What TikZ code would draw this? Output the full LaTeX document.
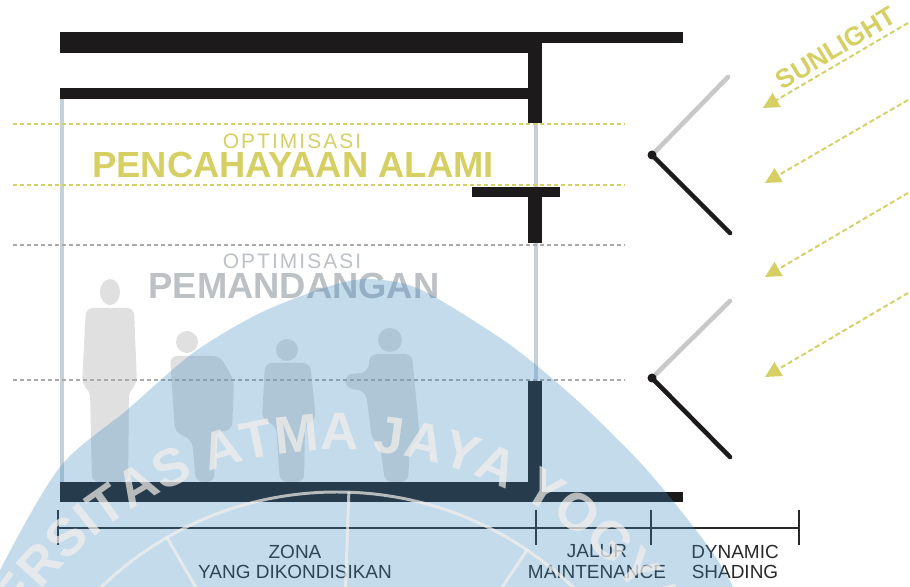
\documentclass[tikz,border=0pt]{standalone}
\usepackage{fontspec}
\setmainfont{Liberation Sans}
\newfontfamily\trackedfont[LetterSpace=10]{Liberation Sans}
\usetikzlibrary{arrows.meta,decorations.text,positioning}

\definecolor{slabblack}{RGB}{28,26,27}
\definecolor{glassblue}{RGB}{196,209,219}
\definecolor{sunyellow}{RGB}{214,208,100}
\definecolor{viewgray}{RGB}{188,193,198}
\definecolor{guidegray}{RGB}{170,170,170}
\definecolor{louvergray}{RGB}{200,200,200}
\definecolor{labelgray}{RGB}{40,40,40}
\definecolor{figuregray}{RGB}{224,224,224}
\definecolor{crestblue}{RGB}{62,138,192}
\definecolor{crestline}{RGB}{245,240,235}

\tikzset{
    slabfill/.style={fill=slabblack},
    glass/.style={draw=glassblue, line width=2.2pt},
    guide/.style={line width=0.85pt, dash pattern=on 2.3pt off 1.7pt},
    louver/.style={line width=2.6pt, line cap=round},
    sunray/.style={draw=sunyellow, line width=1.1pt, dash pattern=on 2.8pt off 1.7pt,
        -{Triangle[length=9pt,width=9pt]}},
    dimline/.style={draw=labelgray, line width=1pt},
    dimtick/.style={draw=labelgray, line width=1.4pt},
    dimlabel/.style={text=labelgray, align=center, inner sep=0pt,
        font=\fontsize{10.8}{11.9}\selectfont},
    person/.style={fill=figuregray, rounded corners=4pt},
}

\begin{document}
\begin{tikzpicture}[x=0.02cm, y=-0.02cm]
    \fill[white] (0,0) rectangle (910,587);
    \useasboundingbox (0,0) rectangle (910,587);

    % people behind the glass
    \fill[figuregray] (110,292) ellipse[x radius=10, y radius=13];
    \fill[person] (86,308) -- (134,308) -- (137,385) -- (129,390) -- (128,482)
        -- (92,482) -- (90,390) -- (82,385) -- cycle;
    \fill[figuregray] (187,342) circle[radius=11];
    \fill[person] (170,356) -- (220,356) -- (234,380) -- (232,430) -- (215,432)
        -- (214,482) -- (196,482) -- (192,440) -- (175,432) -- cycle;
    \fill[figuregray] (287,350) circle[radius=11];
    \fill[person] (265,363) -- (310,363) -- (316,420) -- (305,425) -- (304,482)
        -- (280,482) -- (276,425) -- (262,420) -- cycle;
    \fill[figuregray] (390,340) circle[radius=12];
    \fill[person] (370,354) -- (412,354) -- (420,440) -- (410,445) -- (408,482)
        -- (385,482) -- (380,445) -- (372,440) -- (366,392) -- (345,387)
        -- (345,375) -- (368,372) -- cycle;

    % glazing
    \draw[glass] (62,99) -- (62,482);
    \draw[glass] (536,123) -- (536,381);

    % zone guides
    \foreach \y in {124,185}
        \draw[guide, sunyellow] (13,\y) -- (625,\y);
    \foreach \y in {245,380}
        \draw[guide, guidegray] (13,\y) -- (625,\y);

    \node[inner sep=0pt, text=sunyellow, font=\trackedfont\fontsize{11.9}{12}\selectfont]
        (optlight) at (292,141) {OPTIMISASI};
    \node[inner sep=0pt, text=sunyellow, font=\bfseries\fontsize{20.7}{22}\selectfont]
        (daylight) at (293,165) {PENCAHAYAAN ALAMI};
    \node[inner sep=0pt, text=viewgray, font=\trackedfont\fontsize{11.9}{12}\selectfont]
        (optview) at (292,261) {OPTIMISASI};
    \node[inner sep=0pt, text=viewgray, font=\bfseries\fontsize{20.7}{22}\selectfont]
        (view) at (294,286) {PEMANDANGAN};

    % slabs and columns
    \fill[slabfill] (60,32) rectangle (542,53);
    \fill[slabfill] (542,32) rectangle (683,43);
    \fill[slabfill] (528,32) rectangle (542,123);
    \fill[slabfill] (60,88) rectangle (528,99);
    \fill[slabfill] (472,187) rectangle (560,197);
    \fill[slabfill] (528,197) rectangle (542,243);
    \fill[slabfill] (528,381) rectangle (542,502);
    \fill[slabfill] (60,482) rectangle (542,502);
    \fill[slabfill] (542,492) rectangle (683,502);

    % dynamic shading blades
    \coordinate (pivA) at (652,155);
    \coordinate (pivB) at (652,378);
    \draw[louver, louvergray] (pivA) -- (728,77);
    \draw[louver, slabblack] (pivA) -- (730,233);
    \draw[louver, louvergray] (pivB) -- (730,301);
    \draw[louver, slabblack] (pivB) -- (730,457);
    \fill[slabblack] (pivA) circle[radius=4.5];
    \fill[slabblack] (pivB) circle[radius=4.5];

    % sun rays
    \foreach \n/\ys/\xt/\yt in {1/23/763/108, 2/100/765/183, 3/193/765/277, 4/293/765/377} {
        \coordinate (ray\n) at (908,\ys);
        \coordinate (hit\n) at (\xt,\yt);
        \draw[sunray] (ray\n) -- (hit\n);
    }
    \node[rotate=31, inner sep=0pt, text=sunyellow, font=\bfseries\fontsize{15}{16}\selectfont]
        (sunlabel) at (836,48) {SUNLIGHT};

    % dimension line
    \coordinate (d0) at (58,528);
    \coordinate (d1) at (536,528);
    \coordinate (d2) at (651,528);
    \coordinate (d3) at (799,528);
    \draw[dimline] (d0) -- (d3);
    \foreach \p in {d0,d1,d2,d3}
        \draw[dimtick] (\p) ++(0,-18) -- ++(0,35);
    \node[dimlabel] (zone) at (295,562) {ZONA\\YANG DIKONDISIKAN};
    \node[dimlabel] (path) at (597,562) {JALUR\\MAINTENANCE};
    \node[dimlabel] (shade) at (735,562) {DYNAMIC\\SHADING};

    % crest
    \fill[crestblue, fill opacity=.3] plot[smooth] coordinates {(-20,620) (0,570) (60,467)
        (127,410) (193,353) (260,313) (327,287) (365,279) (405,284) (440,300) (513,347)
        (580,403) (647,470) (713,553) (745,610)} -- cycle;
    \begin{scope}[opacity=.7]
        \draw[crestline, line width=1.7pt] (337,832) circle[radius=340];
        \foreach \a in {-120,-88,-56}
            \draw[crestline, line width=1.7pt] ([shift={(337,832)}]\a:340) -- ([shift={(337,832)}]\a:120);
        \path[decorate, decoration={text along path, text align=left,
            text={|\color{crestline}\bfseries\fontsize{30}{31}\selectfont|UNIVERSITAS ATMA JAYA YOGYAKARTA}}]
            ([shift={(337,832)}]-165:382) arc[start angle=-165, end angle=20, radius=382];
    \end{scope}
\end{tikzpicture}
\end{document}
